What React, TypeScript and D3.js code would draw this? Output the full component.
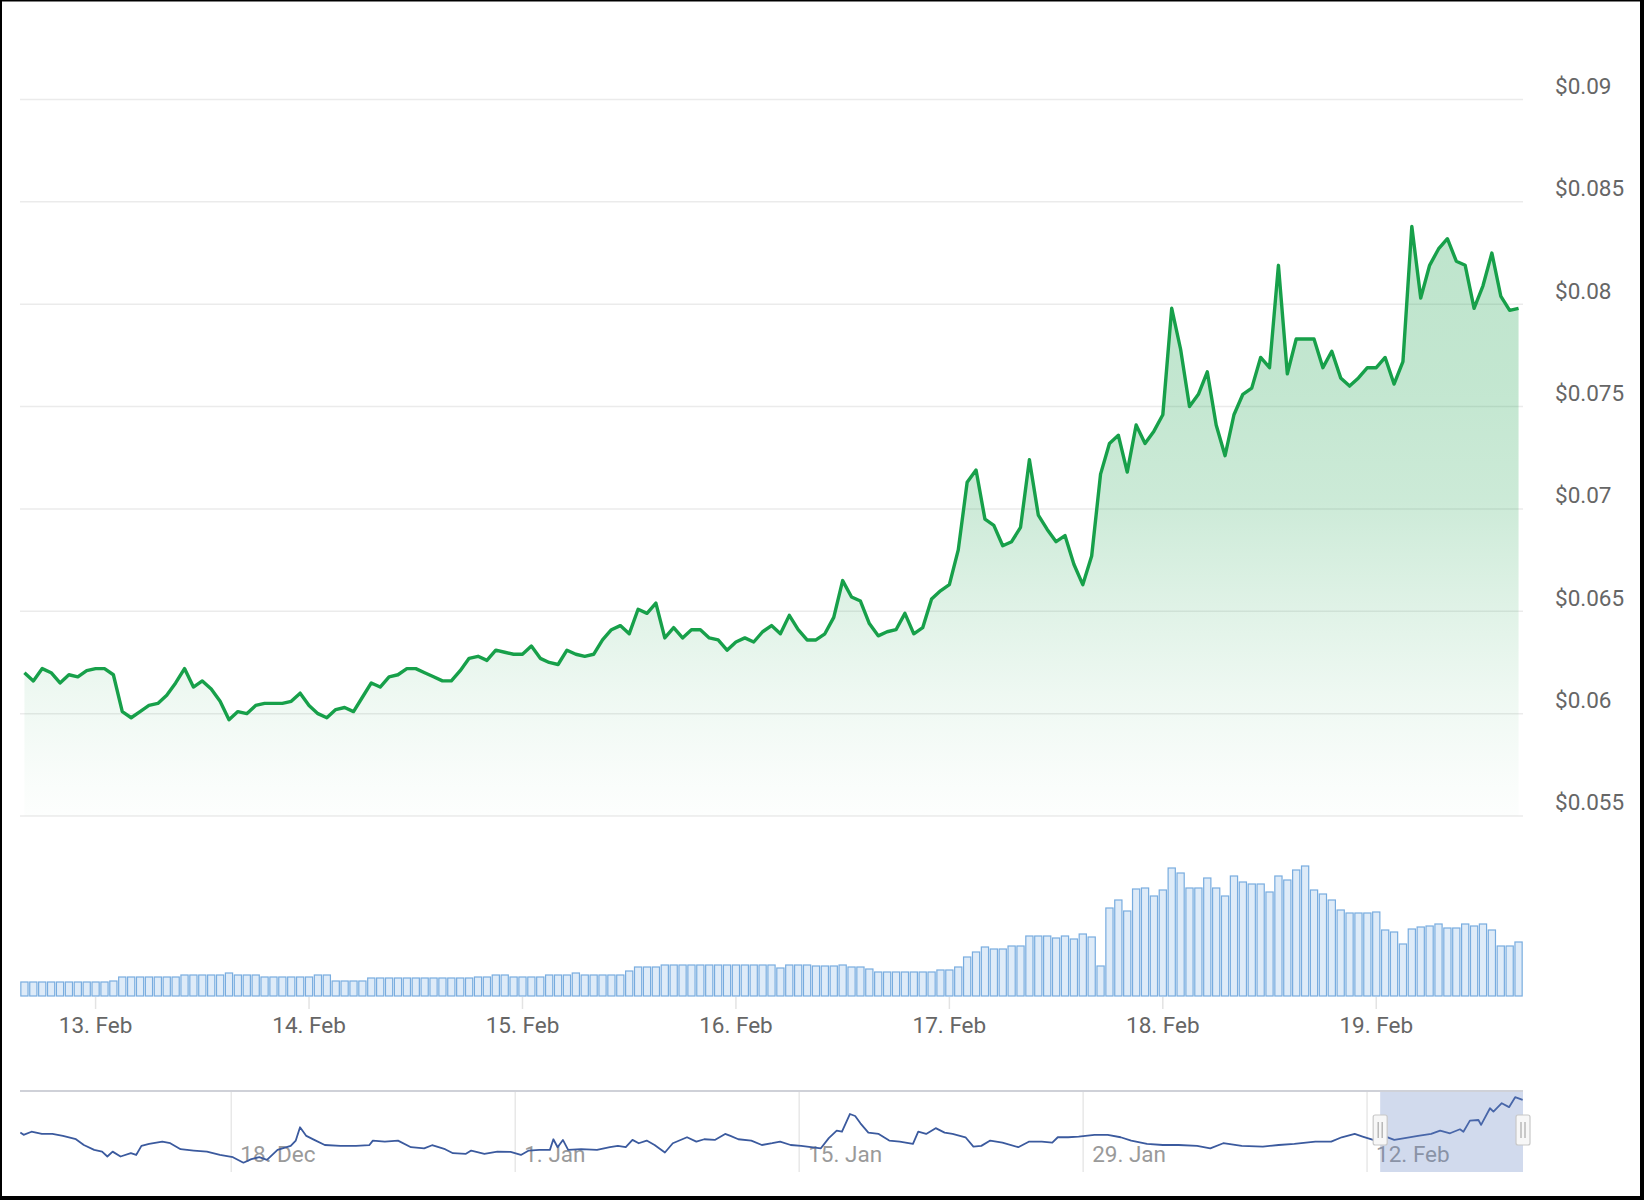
import * as d3 from "d3";

// hourly series, first point 12 Feb 2024 16:00 UTC
const START = Date.UTC(2024, 1, 12, 16);
const HOUR = 3600 * 1000;
const DAY = 24 * HOUR;

const prices = [
  0.0620, 0.0616, 0.0622, 0.0620, 0.0615, 0.0619, 0.0618, 0.0621, 0.0622, 0.0622,
  0.0619, 0.0601, 0.0598, 0.0601, 0.0604, 0.0605, 0.0609, 0.0615, 0.0622, 0.0613,
  0.0616, 0.0612, 0.0606, 0.0597, 0.0601, 0.0600, 0.0604, 0.0605, 0.0605, 0.0605,
  0.0606, 0.0610, 0.0604, 0.0600, 0.0598, 0.0602, 0.0603, 0.0601, 0.0608, 0.0615,
  0.0613, 0.0618, 0.0619, 0.0622, 0.0622, 0.0620, 0.0618, 0.0616, 0.0616, 0.0621,
  0.0627, 0.0628, 0.0626, 0.0631, 0.0630, 0.0629, 0.0629, 0.0633, 0.0627, 0.0625,
  0.0624, 0.0631, 0.0629, 0.0628, 0.0629, 0.0636, 0.0641, 0.0643, 0.0639, 0.0651,
  0.0649, 0.0654, 0.0637, 0.0642, 0.0637, 0.0641, 0.0641, 0.0637, 0.0636, 0.0631,
  0.0635, 0.0637, 0.0635, 0.0640, 0.0643, 0.0639, 0.0648, 0.0641, 0.0636, 0.0636,
  0.0639, 0.0647, 0.0665, 0.0657, 0.0655, 0.0644, 0.0638, 0.0640, 0.0641, 0.0649,
  0.0639, 0.0642, 0.0656, 0.0660, 0.0663, 0.0680, 0.0713, 0.0719, 0.0695, 0.0692,
  0.0682, 0.0684, 0.0691, 0.0724, 0.0697, 0.0690, 0.0684, 0.0687, 0.0673, 0.0663,
  0.0677, 0.0717, 0.0732, 0.0736, 0.0718, 0.0741, 0.0732, 0.0738, 0.0746, 0.0798,
  0.0778, 0.0750, 0.0756, 0.0767, 0.0741, 0.0726, 0.0746, 0.0756, 0.0759, 0.0774,
  0.0769, 0.0819, 0.0766, 0.0783, 0.0783, 0.0783, 0.0769, 0.0777, 0.0764, 0.0760,
  0.0764, 0.0769, 0.0769, 0.0774, 0.0761, 0.0772, 0.0838, 0.0803, 0.0819, 0.0827,
  0.0832, 0.0821, 0.0819, 0.0798, 0.0809, 0.0825, 0.0804, 0.0797, 0.0798,
];

// volume, millions USD
const volumes = [
  14, 14, 14, 14, 14, 14, 14, 14, 14, 14,
  15, 19, 19, 19, 19, 19, 19, 19, 21, 21,
  21, 21, 21, 23, 21, 21, 21, 19, 19, 19,
  19, 19, 19, 21, 21, 15, 15, 15, 15, 18,
  18, 18, 18, 18, 18, 18, 18, 18, 18, 18,
  18, 19, 19, 21, 21, 19, 19, 19, 19, 21,
  21, 21, 23, 21, 21, 21, 21, 21, 25, 29,
  29, 29, 31, 31, 31, 31, 31, 31, 31, 31,
  31, 31, 31, 31, 31, 28, 31, 31, 31, 30,
  30, 30, 31, 29, 29, 27, 24, 24, 24, 24,
  24, 24, 24, 26, 26, 29, 39, 44, 49, 47,
  47, 50, 50, 60, 60, 60, 58, 60, 57, 62,
  59, 30, 88, 96, 85, 107, 108, 100, 106, 128,
  123, 108, 108, 118, 108, 100, 120, 114, 112, 112,
  104, 120, 116, 126, 130, 106, 102, 96, 86, 83,
  83, 83, 84, 66, 64, 52, 67, 69, 70, 72,
  68, 68, 72, 70, 72, 66, 50, 50, 54,
];

const priceTicks = [0.055, 0.06, 0.065, 0.07, 0.075, 0.08, 0.085, 0.09];
const dayTicks = ["2024-02-13", "2024-02-14", "2024-02-15", "2024-02-16", "2024-02-17", "2024-02-18", "2024-02-19"];

// navigator: days from 18 Dec 2023, price
const NAV_ORIGIN = Date.UTC(2023, 11, 18);
const navDays = [
  -10.4, -10.24, -9.85, -9.34, -8.82, -8.3, -7.66, -7.27, -6.76, -6.37,
  -6.11, -5.85, -5.46, -4.95, -4.69, -4.43, -4.05, -3.4, -3.01, -2.5,
  -1.85, -1.2, -0.56, 0.08, 0.6, 0.99, 1.38, 1.76, 2.28, 2.93,
  3.18, 3.39, 3.7, 4.09, 4.61, 5.38, 6.15, 6.8, 6.98, 7.57,
  8.22, 8.86, 9.51, 9.9, 10.54, 10.93, 11.57, 11.83, 12.48, 13.12,
  13.77, 14.28, 14.67, 15.19, 15.71, 15.88, 16.09, 16.35, 16.61, 17.25,
  18.03, 18.67, 19.06, 19.45, 19.78, 20.09, 20.48, 20.87, 21.38, 21.77,
  22.47, 22.93, 23.32, 23.84, 24.35, 24.61, 25.0, 25.64, 26.16, 26.67,
  27.06, 27.58, 28.1, 29.07, 29.46, 29.85, 30.11, 30.5, 30.76, 31.02,
  31.41, 31.92, 32.44, 32.96, 33.61, 33.87, 34.26, 34.73, 35.17, 35.56,
  36.2, 36.59, 36.98, 37.42, 38.02, 38.8, 39.32, 39.96, 40.48, 40.75,
  41.26, 41.78, 42.56, 43.21, 43.85, 44.37, 45.15, 45.93, 46.71, 47.62,
  48.27, 48.91, 49.82, 50.86, 51.64, 52.41, 53.45, 54.23, 54.75, 55.39,
  55.78, 56.3, 56.82, 57.34, 57.86, 58.51, 59.16, 59.6, 60.09, 60.58,
  60.75, 61.07, 61.49, 61.62, 62.06, 62.23, 62.64, 63.0, 63.3, 63.67,
];
const navPrices = [
  0.0635, 0.0625, 0.0639, 0.0629, 0.0629, 0.062, 0.0605, 0.0579, 0.0557, 0.0549,
  0.0527, 0.0549, 0.0527, 0.0542, 0.0534, 0.0575, 0.0584, 0.0594, 0.0587, 0.056,
  0.0554, 0.0549, 0.0534, 0.0524, 0.0499, 0.0515, 0.0524, 0.0512, 0.0557, 0.0575,
  0.0599, 0.0659, 0.062, 0.0602, 0.0579, 0.0575, 0.0575, 0.0578, 0.0599, 0.0594,
  0.0599, 0.0569, 0.0564, 0.0578, 0.056, 0.0542, 0.0539, 0.0554, 0.0539, 0.0549,
  0.0548, 0.0534, 0.0554, 0.0557, 0.0557, 0.0605, 0.0569, 0.0602, 0.0557, 0.056,
  0.0557, 0.0569, 0.0575, 0.0569, 0.0602, 0.0587, 0.0599, 0.0579, 0.0545, 0.0587,
  0.0614, 0.0594, 0.0605, 0.0602, 0.0629, 0.062, 0.0605, 0.0599, 0.0579, 0.0587,
  0.0594, 0.0579, 0.0575, 0.0564, 0.061, 0.0644, 0.0639, 0.0719, 0.071, 0.0677,
  0.0635, 0.0629, 0.0599, 0.0594, 0.0584, 0.0639, 0.0629, 0.0655, 0.0635, 0.0629,
  0.0614, 0.0572, 0.0575, 0.0599, 0.059, 0.0569, 0.0594, 0.0594, 0.059, 0.0614,
  0.0614, 0.0617, 0.0625, 0.0625, 0.0614, 0.0599, 0.0584, 0.0579, 0.0579, 0.0575,
  0.0564, 0.0587, 0.0575, 0.0572, 0.0579, 0.0584, 0.0594, 0.0594, 0.0614, 0.0629,
  0.0617, 0.0602, 0.062, 0.0602, 0.061, 0.062, 0.0629, 0.0644, 0.0632, 0.065,
  0.0639, 0.0689, 0.0692, 0.067, 0.0745, 0.073, 0.0768, 0.075, 0.0795, 0.0783,
];
const navTicks = ["2023-12-18", "2024-01-01", "2024-01-15", "2024-01-29", "2024-02-12"];
const NAV_Y_DOMAIN: [number, number] = [0.0457, 0.0823];

const LINE_GREEN = "#17a04a";
const FONT = "Roboto, 'Noto Sans', sans-serif";

interface Row {
  t: Date;
  p: number;
  v: number;
}

export default function App() {
  const width = 1644;
  const height = 1200;
  const plotLeft = 20;
  const plotRight = 1523;
  const priceBottom = 816;
  const volBase = 996;
  const navTop = 1091;
  const navBottom = 1172;

  const rows: Row[] = prices.map((p, i) => ({ t: new Date(START + i * HOUR), p, v: volumes[i] }));
  const xStart = new Date(START - HOUR / 2);
  const xEnd = new Date(START + (prices.length - 0.5) * HOUR);

  const x = d3.scaleUtc().domain([xStart, xEnd]).range([plotLeft, plotRight]);
  const y = d3.scaleLinear().domain([0.055, 0.09]).range([priceBottom, 99.5]);
  const yVol = d3.scaleLinear().domain([0, 140]).range([volBase, volBase - 140]);

  const line = d3.line<Row>().x((d) => x(d.t)).y((d) => y(d.p));
  const area = d3.area<Row>().x((d) => x(d.t)).y0(priceBottom).y1((d) => y(d.p));

  const barW = (x(new Date(START + HOUR)) - x(new Date(START))) * 0.81;
  const fmtDay = d3.utcFormat("%-d. %b");
  const fmtPrice = d3.format(".3~f");

  const navData = navDays.map((d, i) => ({ t: new Date(NAV_ORIGIN + d * DAY), p: navPrices[i] }));
  const navX = d3.scaleUtc()
    .domain([new Date(NAV_ORIGIN - 10.417 * DAY), xEnd])
    .range([plotLeft, plotRight]);
  const navY = d3.scaleLinear().domain(NAV_Y_DOMAIN).range([navBottom, navTop]);
  const navLine = d3.line<{ t: Date; p: number }>().x((d) => navX(d.t)).y((d) => navY(d.p));

  const maskL = navX(xStart);
  const maskR = navX(xEnd);

  const handle = (cx: number, key: string) => (
    <g key={key}>
      <rect x={cx - 7} y={1115} width={14} height={30} rx={2} fill="#f7f7f7" stroke="#c8c8c8" strokeWidth={1.2} />
      <line x1={cx - 2} x2={cx - 2} y1={1122} y2={1138} stroke="#a8a8a8" strokeWidth={1.2} />
      <line x1={cx + 2} x2={cx + 2} y1={1122} y2={1138} stroke="#a8a8a8" strokeWidth={1.2} />
    </g>
  );

  return (
    <div style={{ position: "absolute", left: 0, top: 0 }}>
      <svg width={width} height={height} style={{ display: "block", background: "#fff" }} fontFamily={FONT}>
        <defs>
          <linearGradient id="priceFill" gradientUnits="userSpaceOnUse" x1={0} y1={220} x2={0} y2={priceBottom}>
            <stop offset="0" stopColor={LINE_GREEN} stopOpacity={0.28} />
            <stop offset="0.27" stopColor={LINE_GREEN} stopOpacity={0.26} />
            <stop offset="0.47" stopColor={LINE_GREEN} stopOpacity={0.22} />
            <stop offset="0.64" stopColor={LINE_GREEN} stopOpacity={0.14} />
            <stop offset="0.8" stopColor={LINE_GREEN} stopOpacity={0.07} />
            <stop offset="0.94" stopColor={LINE_GREEN} stopOpacity={0.025} />
            <stop offset="1" stopColor={LINE_GREEN} stopOpacity={0.01} />
          </linearGradient>
        </defs>

        {/* price grid + labels */}
        {priceTicks.map((t) => (
          <g key={t}>
            <line x1={plotLeft} x2={plotRight} y1={y(t)} y2={y(t)} stroke="#ebebeb" strokeWidth={1.5} />
            <text x={1555} y={y(t) - 5.7} fontSize={22.5} fill="#666">
              {"$" + fmtPrice(t)}
            </text>
          </g>
        ))}

        <path d={area(rows) ?? ""} fill="url(#priceFill)" />
        <path d={line(rows) ?? ""} fill="none" stroke={LINE_GREEN} strokeWidth={3.4} strokeLinejoin="round" />

        {/* volume */}
        {rows.map((d, i) => (
          <rect
            key={i}
            x={x(d.t) - barW / 2}
            y={yVol(d.v)}
            width={barW}
            height={volBase - yVol(d.v)}
            fill="#deebf8"
            stroke="#78acdf"
            strokeWidth={1.2}
          />
        ))}

        {/* x axis */}
        {dayTicks.map((s) => {
          const d = new Date(s + "T00:00:00Z");
          const px = x(d);
          return (
            <g key={s}>
              <line x1={px} x2={px} y1={volBase + 1} y2={volBase + 13} stroke="#e3e3e3" strokeWidth={1.5} />
              <text x={px} y={1033.3} fontSize={22.5} fill="#666" textAnchor="middle">
                {fmtDay(d)}
              </text>
            </g>
          );
        })}

        {/* navigator */}
        {navTicks.map((s) => {
          const d = new Date(s + "T00:00:00Z");
          const px = navX(d);
          return (
            <g key={s}>
              <line x1={px} x2={px} y1={navTop} y2={navBottom} stroke="#e8e8e8" strokeWidth={1.5} />
              <text x={px + 9} y={1161.7} fontSize={22.5} fill="#9a9a9a">
                {fmtDay(d)}
              </text>
            </g>
          );
        })}
        <path d={navLine(navData) ?? ""} fill="none" stroke="#3b5a9e" strokeWidth={1.8} strokeLinejoin="round" />
        <rect x={maskL} y={navTop} width={maskR - maskL} height={navBottom - navTop} fill="rgba(102,133,194,0.3)" />
        <line x1={plotLeft} x2={plotRight} y1={navTop} y2={navTop} stroke="#cfd1d8" strokeWidth={2} />
        {handle(maskL, "l")}
        {handle(maskR, "r")}

        {/* screenshot frame */}
        <rect x={0} y={0} width={2} height={height} fill="#000" />
        <rect x={0} y={0} width={width} height={1.5} fill="#000" />
        <rect x={1640} y={0} width={4} height={height} fill="#000" />
        <rect x={0} y={1196} width={width} height={4} fill="#000" />
      </svg>
    </div>
  );
}
